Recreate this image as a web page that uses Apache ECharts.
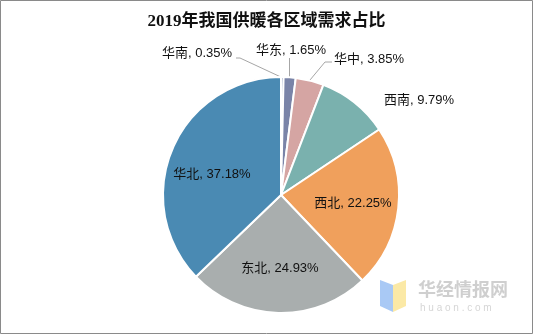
<!DOCTYPE html>
<html><head><meta charset="utf-8">
<script src="https://cdn.jsdelivr.net/npm/echarts@6/dist/echarts.min.js"></script>
<style>html,body{margin:0;padding:0;background:#fff}#c{width:533px;height:334px}</style>
</head><body><div id="c"></div>
<script>
const titleText = '2019年我国供暖各区域需求占比';
const categories = ['华南', '华东', '华中', '西南', '西北', '东北', '华北'];
const values = [0.35, 1.65, 3.85, 9.79, 22.25, 24.93, 37.18];
const colors = ['#5d6e9e', '#7a84a8', '#d5a5a3', '#7ab1ae', '#f0a05c', '#a9aeae', '#4a8ab3'];
const insideNames = ['西北', '东北', '华北'];

// label placement (text centres) and leader lines
const labelPos = [[197, 53], [291, 50], [369, 59], [419, 100], [353, 203], [280, 268], [212, 174]];
const leaderLines = [
  [[236, 58], [240, 58], [283, 78]],
  [[289.5, 58], [289.5, 58], [289.5, 78]],
  [[332, 62], [325, 62], [310, 80]],
  null, null, null, null
];

const chart = echarts.init(document.getElementById('c'), null, {renderer: 'canvas'});
const font = '"Liberation Sans", "Noto Sans CJK SC", sans-serif';
chart.setOption({
  backgroundColor: '#fff',
  animation: false,
  title: {
    text: titleText, left: 'center', top: 8,
    textStyle: {fontFamily: '"Liberation Serif", "Noto Sans CJK SC", serif', fontSize: 17, fontWeight: 'bold', color: '#111'}
  },
  graphic: [
    {type: 'rect', shape: {x: 0.5, y: 0.5, width: 532, height: 333}, style: {fill: 'none', stroke: '#8a8a8a', lineWidth: 1}, silent: true},
    {type: 'polygon', shape: {points: [[380, 280], [393, 285], [393, 312], [380, 306]]}, style: {fill: '#a9c9f5'}},
    {type: 'polygon', shape: {points: [[393, 285], [406, 280], [406, 306], [393, 312]]}, style: {fill: '#fbe9a6'}},
    {type: 'text', left: 418, top: 280, style: {text: '华经情报网', font: 'bold 18px "Noto Sans CJK SC", sans-serif', fill: '#cfcfcf'}},
    {type: 'text', left: 420, top: 303, style: {text: 'h u a o n . c o m', font: '10px "Liberation Sans", sans-serif', fill: '#d6d6d6'}}
  ],
  series: [{
    type: 'pie',
    center: [281, 195],
    radius: 118,
    startAngle: 90,
    clockwise: true,
    itemStyle: {borderColor: '#fff', borderWidth: 2},
    label: {fontFamily: font, fontSize: 13, color: '#111'},
    labelLine: {length: 12, length2: 8, lineStyle: {color: '#a6a6a6', width: 1}},
    labelLayout: function (p) {
      const i = p.dataIndex;
      const r = {x: labelPos[i][0], y: labelPos[i][1], align: 'center', verticalAlign: 'middle'};
      if (leaderLines[i]) r.labelLinePoints = leaderLines[i];
      return r;
    },
    data: categories.map((n, i) => ({
      name: n, value: values[i],
      itemStyle: {color: colors[i]},
      label: {position: insideNames.includes(n) ? 'inside' : 'outside', formatter: n + ', ' + values[i].toFixed(2) + '%'},
      labelLine: {show: leaderLines[i] !== null}
    }))
  }]
});
</script></body></html>
